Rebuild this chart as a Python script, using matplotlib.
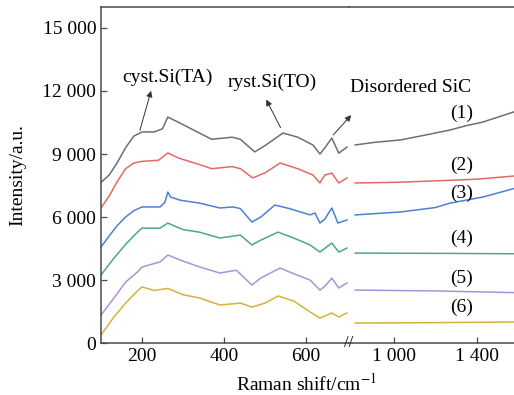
import matplotlib.pyplot as plt
import matplotlib.ticker as mticker

plt.rcParams['font.family'] = ['Liberation Serif', 'DejaVu Serif']
plt.rcParams['mathtext.fontset'] = 'stix'

# left part of the spectrum (100-700 cm-1)
x1_l = [100, 120, 140, 160, 180, 200, 230, 250, 263, 290, 340, 370, 420, 440, 475, 500, 544, 580, 617, 634, 646, 663, 680, 700]
y1_l = [7650, 8000, 8600, 9300, 9850, 10050, 10050, 10200, 10760, 10500, 10000, 9700, 9800, 9700, 9100, 9400, 10000, 9800, 9430, 9000, 9290, 9760, 9040, 9330]
x2_l = [100, 120, 140, 160, 180, 200, 240, 263, 290, 340, 370, 420, 440, 470, 500, 537, 580, 617, 634, 646, 663, 680, 700]
y2_l = [6430, 7000, 7700, 8300, 8570, 8650, 8700, 9050, 8800, 8500, 8300, 8400, 8300, 7860, 8100, 8570, 8300, 8000, 7620, 8000, 8090, 7620, 7860]
x3_l = [100, 120, 140, 160, 180, 200, 244, 256, 263, 270, 293, 341, 390, 422, 440, 468, 490, 524, 560, 610, 622, 634, 646, 663, 678, 700]
y3_l = [4570, 5100, 5600, 6000, 6300, 6480, 6480, 6700, 7190, 6950, 6800, 6660, 6430, 6480, 6400, 5760, 6000, 6570, 6400, 6100, 6190, 5710, 5900, 6430, 5710, 5860]
x4_l = [100, 130, 160, 190, 200, 244, 263, 300, 340, 390, 440, 468, 490, 532, 570, 610, 634, 663, 680, 700]
y4_l = [3240, 4000, 4700, 5300, 5470, 5470, 5710, 5400, 5280, 5000, 5140, 4670, 4900, 5280, 5000, 4670, 4330, 4760, 4330, 4520]
x5_l = [100, 130, 160, 190, 200, 244, 263, 300, 341, 390, 430, 468, 490, 537, 570, 610, 634, 646, 663, 680, 700]
y5_l = [1330, 2100, 2900, 3400, 3620, 3860, 4190, 3900, 3620, 3330, 3470, 2760, 3100, 3570, 3300, 3000, 2520, 2700, 3090, 2620, 2860]
x6_l = [100, 130, 160, 190, 200, 230, 263, 300, 341, 390, 440, 468, 500, 532, 570, 610, 634, 663, 680, 700]
y6_l = [380, 1200, 1900, 2500, 2670, 2500, 2600, 2300, 2140, 1810, 1900, 1710, 1900, 2240, 2000, 1480, 1190, 1430, 1240, 1430]

# right part (810-1580 cm-1)
x1_r = [810, 900, 1030, 1150, 1270, 1350, 1430, 1580]
y1_r = [9430, 9550, 9670, 9900, 10140, 10350, 10520, 11000]
x2_r = [810, 1000, 1200, 1400, 1580]
y2_r = [7620, 7650, 7720, 7800, 7950]
x3_r = [810, 1030, 1200, 1270, 1430, 1580]
y3_r = [6100, 6240, 6450, 6660, 6950, 7350]
x4_r = [810, 1200, 1580]
y4_r = [4280, 4270, 4250]
x5_r = [810, 1200, 1580]
y5_r = [2520, 2480, 2400]
x6_r = [810, 1200, 1580]
y6_r = [950, 970, 1000]

colors = ['#6f6f6f', '#e36a63', '#4d80d2', '#4aab7f', '#a993d9', '#d6b23c']
labels = ['(1)', '(2)', '(3)', '(4)', '(5)', '(6)']
label_y = [10950, 8470, 7150, 5000, 3090, 1710]

left_series = [(x1_l, y1_l), (x2_l, y2_l), (x3_l, y3_l), (x4_l, y4_l), (x5_l, y5_l), (x6_l, y6_l)]
right_series = [(x1_r, y1_r), (x2_r, y2_r), (x3_r, y3_r), (x4_r, y4_r), (x5_r, y5_r), (x6_r, y6_r)]

fs = 14

fig = plt.figure(figsize=(5.14, 3.95), dpi=100)
ax1 = fig.add_axes([0.1965, 0.1316, 0.4825, 0.8507])
ax2 = fig.add_axes([0.679, 0.1316, 0.321, 0.8507], sharey=ax1)
ax2.patch.set_alpha(0)

for (x, y), c in zip(left_series, colors):
    ax1.plot(x, y, color=c, lw=1.1)
for (x, y), c in zip(right_series, colors):
    ax2.plot(x, y, color=c, lw=1.1)

for lab, ly in zip(labels, label_y):
    ax2.text(1325, ly, lab, ha='center', va='center', fontsize=fs)

ax1.set_xlim(100, 705)
ax2.set_xlim(780, 1582)
ax1.set_ylim(0, 16000)

ax1.set_xticks([200, 400, 600])
ax2.set_xticks([1000, 1400])
ax1.set_yticks(range(0, 15001, 3000))
fmt = mticker.FuncFormatter(lambda v, p: format(int(v), ',').replace(',', ' '))
ax1.yaxis.set_major_formatter(fmt)
ax2.xaxis.set_major_formatter(fmt)

spine_c = '#4a4a4a'
for ax in (ax1, ax2):
    ax.tick_params(direction='in', length=4, width=0.9, color=spine_c, labelsize=fs)
    for s in ax.spines.values():
        s.set_color(spine_c)
        s.set_linewidth(1.1)
ax1.spines['right'].set_visible(False)
ax2.spines['left'].set_visible(False)
ax2.spines['right'].set_visible(False)
ax2.tick_params(axis='y', left=False, labelleft=False)

# break mark
ax1.text(1.0, 0.0, '//', transform=ax1.transAxes, ha='center', va='center', fontsize=12)

arrow = dict(arrowstyle='-|>', lw=0.7, color='#333333', mutation_scale=9)
ax1.annotate('', xy=(224, 12140), xytext=(193, 10000), arrowprops=arrow)
ax1.text(262, 12650, 'cyst.Si(TA)', ha='center', va='center', fontsize=fs)
ax1.annotate('', xy=(500, 11710), xytext=(541, 10140), arrowprops=arrow)
ax1.text(517, 12420, 'ryst.Si(TO)', ha='center', va='center', fontsize=fs)
ax1.annotate('', xy=(715, 10950), xytext=(662, 9810), arrowprops=arrow, annotation_clip=False)
ax2.text(1080, 12150, 'Disordered SiC', ha='center', va='center', fontsize=fs)

fig.text(0.035, 0.558, 'Intensity/a.u.', rotation=90, ha='center', va='center', fontsize=fs)
fig.text(0.597, 0.03, 'Raman shift/cm$^{-1}$', ha='center', va='center', fontsize=fs)

fig.savefig('out.png', dpi=100)
